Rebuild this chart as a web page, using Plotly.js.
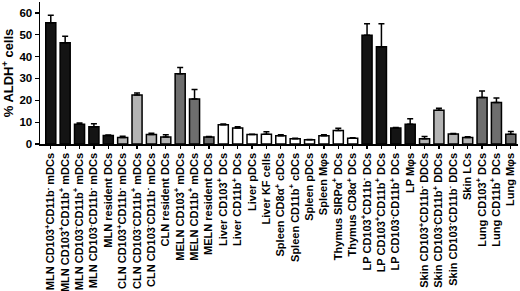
<!DOCTYPE html>
<html>
<head>
<meta charset="utf-8">
<script src="https://cdn.plot.ly/plotly-3.0.1.min.js"></script>
<style>
html,body{margin:0;padding:0;background:#fff;}
#chart{width:520px;height:291px;}
</style>
</head>
<body>
<div id="chart"></div>
<script>
var categories = [
  "MLN CD103<sup>+</sup>CD11b<sup>-</sup> mDCs",
  "MLN CD103<sup>+</sup>CD11b<sup>+</sup> mDCs",
  "MLN CD103<sup>-</sup>CD11b<sup>+</sup> mDCs",
  "MLN CD103<sup>-</sup>CD11b<sup>-</sup> mDCs",
  "MLN resident DCs",
  "CLN CD103<sup>+</sup>CD11b<sup>-</sup> mDCs",
  "CLN CD103<sup>-</sup>CD11b<sup>+</sup> mDCs",
  "CLN CD103<sup>-</sup>CD11b<sup>-</sup> mDCs",
  "CLN resident DCs",
  "MELN CD103<sup>+</sup> mDCs",
  "MELN CD11b<sup>+</sup> mDCs",
  "MELN resident DCs",
  "Liver CD103<sup>+</sup> DCs",
  "Liver CD11b<sup>+</sup> DCs",
  "Liver pDCs",
  "Liver KF cells",
  "Spleen CD8\u03b1<sup>+</sup> cDCs",
  "Spleen CD11b<sup>+</sup> cDCs",
  "Spleen pDCs",
  "Spleen M\u03c6s",
  "Thymus SIRP\u03b1<sup>+</sup> DCs",
  "Thymus CD8\u03b1<sup>+</sup> DCs",
  "LP CD103<sup>+</sup>CD11b<sup>-</sup> DCs",
  "LP CD103<sup>+</sup>CD11b<sup>+</sup> DCs",
  "LP CD103<sup>-</sup>CD11b<sup>+</sup> DCs",
  "LP M\u03c6s",
  "Skin CD103<sup>+</sup>CD11b<sup>-</sup> DDCs",
  "Skin CD103<sup>-</sup>CD11b<sup>+</sup> DDCs",
  "Skin CD103<sup>-</sup>CD11b<sup>-</sup> DDCs",
  "Skin LCs",
  "Lung CD103<sup>+</sup> DCs",
  "Lung CD11b<sup>+</sup> DCs",
  "Lung M\u03c6s"
];
var groups = [
  "MLN","MLN","MLN","MLN","MLN",
  "CLN","CLN","CLN","CLN",
  "MELN","MELN","MELN",
  "Liver","Liver","Liver","Liver",
  "Spleen","Spleen","Spleen","Spleen",
  "Thymus","Thymus",
  "LP","LP","LP","LP",
  "Skin","Skin","Skin","Skin",
  "Lung","Lung","Lung"
];
var values = [55.5, 46.3, 9.0, 7.9, 3.9, 3.0, 22.4, 4.4, 3.2, 32.1, 20.6, 3.2,
              8.8, 7.3, 4.3, 4.5, 3.8, 2.4, 1.9, 3.8, 6.2, 2.6,
              49.8, 44.5, 7.3, 9.0, 2.4, 15.5, 4.6, 3.0, 21.3, 19.0, 4.5];
var errors = [3.4, 3.0, 0.6, 1.4, 0.2, 0.6, 1.0, 0.5, 1.0, 2.9, 4.4, 0.2,
              0.4, 0.6, 0.2, 1.1, 0.4, 0.2, 0.2, 0.4, 1.0, 0.3,
              5.3, 10.6, 0.3, 2.6, 1.0, 0.9, 0.2, 0.3, 3.0, 2.0, 1.2];

var groupColor = {MLN:"#141414", CLN:"#b4b4b4", MELN:"#6e6e6e", Liver:"#ffffff",
                  Spleen:"#ffffff", Thymus:"#ffffff", LP:"#141414", Skin:"#b4b4b4", Lung:"#6e6e6e"};
var xs = categories.map(function(_, i){ return i; });
var colors = groups.map(function(g){ return groupColor[g]; });

var font = {family: "Liberation Sans, Arial, sans-serif", color: "#000", weight: "bold"};

var trace = {
  type: "bar",
  x: xs,
  y: values,
  marker: {color: colors, line: {color: "#000", width: 1.5}},
  error_y: {type: "data", symmetric: false, array: errors, arrayminus: errors.map(function(){return 0;}),
            color: "#000", thickness: 1.5, width: 3},
  hoverinfo: "none"
};

var layout = {
  width: 520, height: 291,
  margin: {l: 40, r: 2, t: 2, b: 147, pad: 0},
  paper_bgcolor: "#fff", plot_bgcolor: "#fff",
  showlegend: false,
  bargap: 0.3,
  xaxis: {
    tickmode: "array", tickvals: xs, ticktext: categories,
    range: [-0.75, 32.5],
    tickangle: -90,
    ticks: "outside", ticklen: 3, tickwidth: 1.2, tickcolor: "#000",
    showline: true, linecolor: "#000", linewidth: 1.5,
    showgrid: false, zeroline: false,
    tickfont: Object.assign({size: 11}, font),
    automargin: false
  },
  yaxis: {
    range: [0, 65],
    tickvals: [0, 10, 20, 30, 40, 50, 60],
    ticks: "outside", ticklen: 4, tickwidth: 1.2, tickcolor: "#000",
    showline: true, linecolor: "#000", linewidth: 1.5,
    showgrid: false, zeroline: false,
    tickfont: Object.assign({size: 11.5}, font),
    title: {text: "% ALDH<sup>+</sup> cells", font: Object.assign({size: 13}, font), standoff: 4},
    automargin: false
  }
};

Plotly.newPlot("chart", [trace], layout, {staticPlot: true, displayModeBar: false});
</script>
</body>
</html>
